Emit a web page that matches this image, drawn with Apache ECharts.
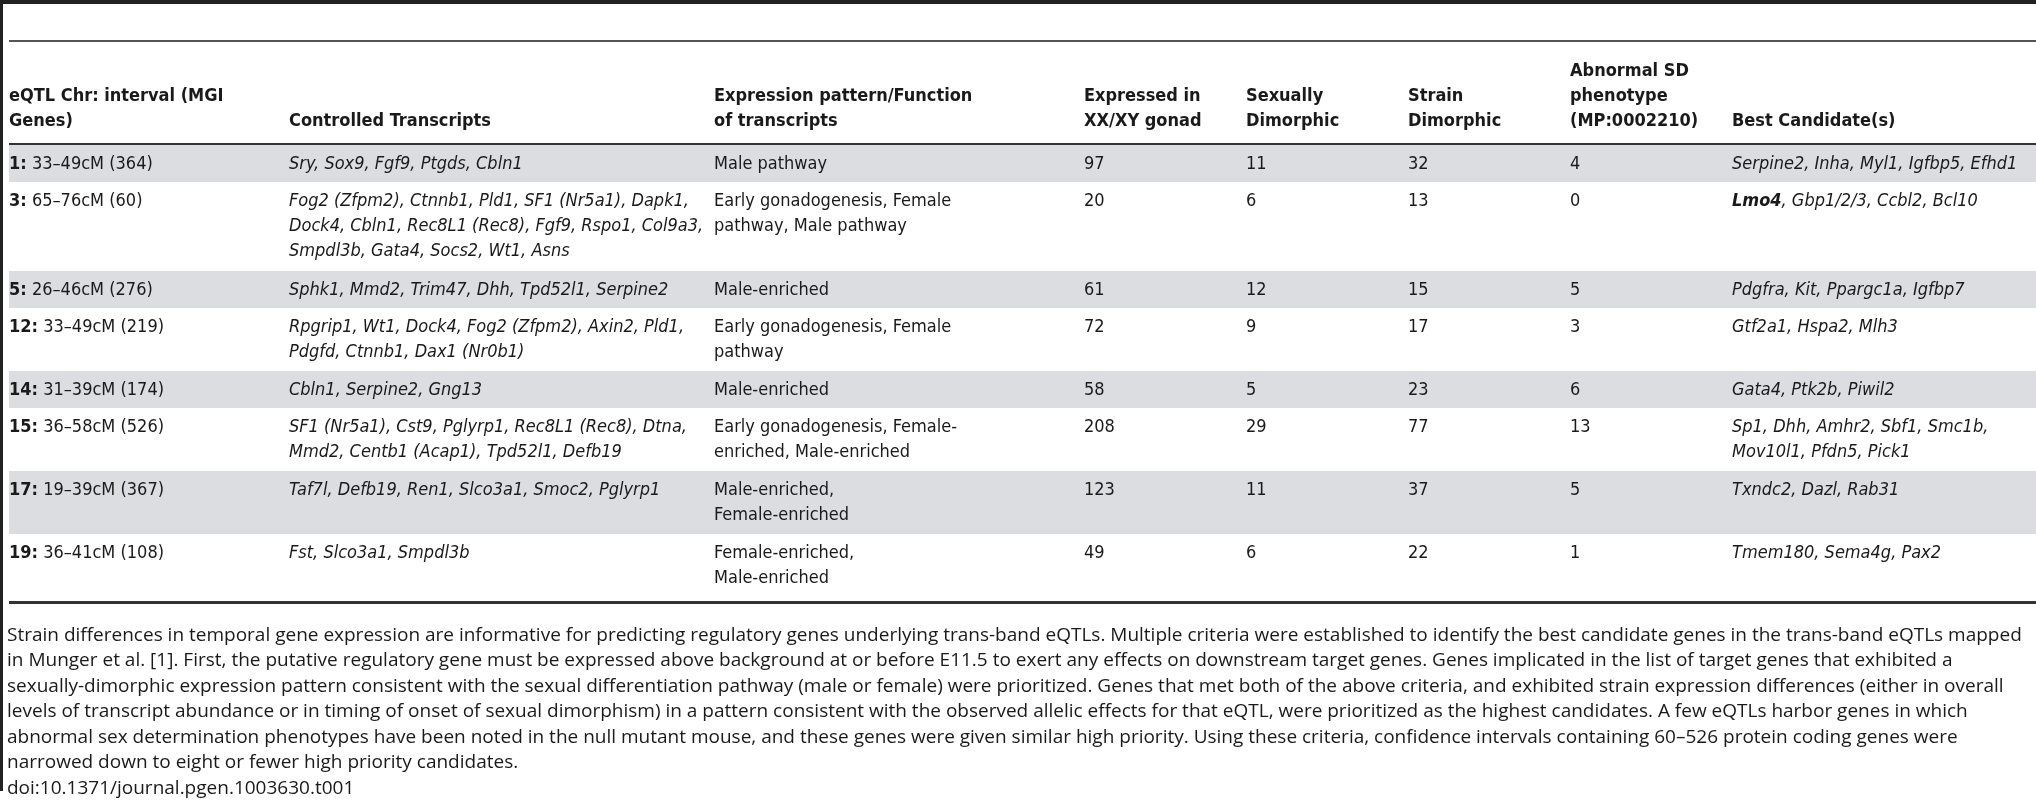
<!DOCTYPE html>
<html><head><meta charset="utf-8">
<script src="https://cdn.jsdelivr.net/npm/echarts@6/dist/echarts.min.js"></script>
<style>html,body{margin:0;padding:0;background:#fff}#c{width:2036px;height:800px}</style>
</head><body><div id="c"></div>
<script>
var headers = ["eQTL Chr: interval (MGI\nGenes)", "Controlled Transcripts", "Expression pattern/Function\nof transcripts", "Expressed in\nXX/XY gonad", "Sexually\nDimorphic", "Strain\nDimorphic", "Abnormal SD\nphenotype\n(MP:0002210)", "Best Candidate(s)"];
var chromosomes = ["1:", "3:", "5:", "12:", "14:", "15:", "17:", "19:"];
var intervals = ["33–49cM (364)", "65–76cM (60)", "26–46cM (276)", "33–49cM (219)", "31–39cM (174)", "36–58cM (526)", "19–39cM (367)", "36–41cM (108)"];
var transcripts = [
  ["Sry, Sox9, Fgf9, Ptgds, Cbln1"],
  ["Fog2 (Zfpm2), Ctnnb1, Pld1, SF1 (Nr5a1), Dapk1,", "Dock4, Cbln1, Rec8L1 (Rec8), Fgf9, Rspo1, Col9a3,", "Smpdl3b, Gata4, Socs2, Wt1, Asns"],
  ["Sphk1, Mmd2, Trim47, Dhh, Tpd52l1, Serpine2"],
  ["Rpgrip1, Wt1, Dock4, Fog2 (Zfpm2), Axin2, Pld1,", "Pdgfd, Ctnnb1, Dax1 (Nr0b1)"],
  ["Cbln1, Serpine2, Gng13"],
  ["SF1 (Nr5a1), Cst9, Pglyrp1, Rec8L1 (Rec8), Dtna,", "Mmd2, Centb1 (Acap1), Tpd52l1, Defb19"],
  ["Taf7l, Defb19, Ren1, Slco3a1, Smoc2, Pglyrp1"],
  ["Fst, Slco3a1, Smpdl3b"]
];
var patterns = [
  ["Male pathway"],
  ["Early gonadogenesis, Female", "pathway, Male pathway"],
  ["Male-enriched"],
  ["Early gonadogenesis, Female", "pathway"],
  ["Male-enriched"],
  ["Early gonadogenesis, Female-", "enriched, Male-enriched"],
  ["Male-enriched,", "Female-enriched"],
  ["Female-enriched,", "Male-enriched"]
];
var expressed = [97, 20, 61, 72, 58, 208, 123, 49];
var sexDimorphic = [11, 6, 12, 9, 5, 29, 11, 6];
var strainDimorphic = [32, 13, 15, 17, 23, 77, 37, 22];
var abnormalSD = [4, 0, 5, 3, 6, 13, 5, 1];
var candidates = [
  ["Serpine2, Inha, Myl1, Igfbp5, Efhd1"],
  ["{bi|Lmo4}, Gbp1/2/3, Ccbl2, Bcl10"],
  ["Pdgfra, Kit, Ppargc1a, Igfbp7"],
  ["Gtf2a1, Hspa2, Mlh3"],
  ["Gata4, Ptk2b, Piwil2"],
  ["Sp1, Dhh, Amhr2, Sbf1, Smc1b,", "Mov10l1, Pfdn5, Pick1"],
  ["Txndc2, Dazl, Rab31"],
  ["Tmem180, Sema4g, Pax2"]
];
var caption = [
  "Strain differences in temporal gene expression are informative for predicting regulatory genes underlying trans-band eQTLs. Multiple criteria were established to identify the best candidate genes in the trans-band eQTLs mapped",
  "in Munger et al. [1]. First, the putative regulatory gene must be expressed above background at or before E11.5 to exert any effects on downstream target genes. Genes implicated in the list of target genes that exhibited a",
  "sexually-dimorphic expression pattern consistent with the sexual differentiation pathway (male or female) were prioritized. Genes that met both of the above criteria, and exhibited strain expression differences (either in overall",
  "levels of transcript abundance or in timing of onset of sexual dimorphism) in a pattern consistent with the observed allelic effects for that eQTL, were prioritized as the highest candidates. A few eQTLs harbor genes in which",
  "abnormal sex determination phenotypes have been noted in the null mutant mouse, and these genes were given similar high priority. Using these criteria, confidence intervals containing 60–526 protein coding genes were",
  "narrowed down to eight or fewer high priority candidates.",
  "doi:10.1371/journal.pgen.1003630.t001"
];

var TF = '"Liberation Sans Narrow","DejaVu Sans Condensed",sans-serif';
var CF = '"Open Sans","Noto Sans",sans-serif';
var FS = 18, LH = 25;
var colX = [9, 289, 714, 1084, 1246, 1408, 1570, 1732];
var els = [];
function txt(x, y, s, opt) {
  opt = opt || {};
  els.push({type:'text', x:x, y:y, silent:true, style:{
    text:s, fill:'#1a1a1a',
    fontSize:opt.size||FS, fontFamily:opt.family||TF, fontWeight:opt.weight||'normal', fontStyle:opt.style||'normal',
    lineHeight:opt.lh||LH, verticalAlign:'bottom', rich:opt.rich
  }});
}
function line(y, w, c, x1) {
  els.push({type:'rect', silent:true, shape:{x:x1||3, y:y, width:2036-(x1||3), height:w}, style:{fill:c}});
}
els.push({type:'rect', silent:true, shape:{x:0,y:0,width:2036,height:4}, style:{fill:'#222'}});
els.push({type:'rect', silent:true, shape:{x:0,y:0,width:3,height:791}, style:{fill:'#222'}});
line(40, 2, '#555', 9);
headers.forEach(function(h, i){
  txt(colX[i], 134, h, {weight:'bold'});
});
line(143, 2, '#333', 9);
var y = 145;
for (var r = 0; r < chromosomes.length; r++) {
  var n = Math.max(transcripts[r].length, patterns[r].length, candidates[r].length);
  var h = 11 + 26 * n + (r === chromosomes.length - 1 ? 4 : 0);
  if (r % 2 === 0) els.push({type:'rect', silent:true, shape:{x:9, y:y, width:2027, height:h}, style:{fill:'#dcdde0'}});
  var ty = y + 32;
  txt(colX[0], ty, '{b|' + chromosomes[r] + '} ' + intervals[r], {rich:{b:{fontWeight:'bold', fontSize:FS, fontFamily:TF, fill:'#1a1a1a'}}});
  transcripts[r].forEach(function(s, k){ txt(colX[1], ty + k*LH, s, {style:'italic'}); });
  patterns[r].forEach(function(s, k){ txt(colX[2], ty + k*LH, s); });
  txt(colX[3], ty, String(expressed[r]));
  txt(colX[4], ty, String(sexDimorphic[r]));
  txt(colX[5], ty, String(strainDimorphic[r]));
  txt(colX[6], ty, String(abnormalSD[r]));
  candidates[r].forEach(function(s, k){
    txt(colX[7], ty + k*LH, s, {style:'italic', rich:{bi:{fontWeight:'bold', fontStyle:'italic', fontSize:FS, fontFamily:TF, fill:'#1a1a1a'}}});
  });
  y += h;
}
line(y, 3, '#333', 9);
caption.forEach(function(s, k){
  txt(7, 648 + k*25.5, s, {family:CF, size:19, lh:25});
});

var chart = echarts.init(document.getElementById('c'));
chart.setOption({animation:false, graphic:{elements:els}});
</script></body></html>
